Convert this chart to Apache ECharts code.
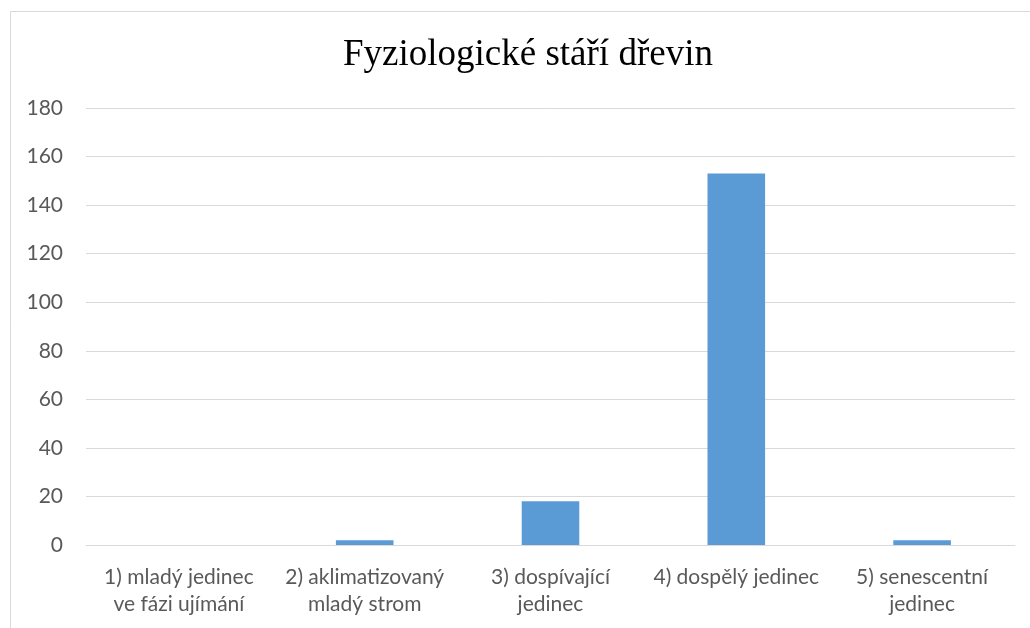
<!DOCTYPE html>
<html>
<head>
<meta charset="utf-8">
<script src="https://cdn.jsdelivr.net/npm/echarts@6/dist/echarts.min.js"></script>
<style>
  html, body { margin: 0; padding: 0; background: #fff; }
  #chart { width: 1030px; height: 628px; }
</style>
</head>
<body>
<div id="chart"></div>
<script>
var categories = [
  '1) mladý jedinec\nve fázi ujímání',
  '2) aklimatizovaný\nmladý strom',
  '3) dospívající\njedinec',
  '4) dospělý jedinec',
  '5) senescentní\njedinec'
];
var values = [0, 2, 18, 153, 2];

var chart = echarts.init(document.getElementById('chart'));

var option = {
  backgroundColor: '#fff',
  animation: false,
  title: {
    text: 'Fyziologické stáří dřevin',
    left: 338,
    top: 32,
    textStyle: {
      fontFamily: 'Liberation Serif',
      fontSize: 37,
      fontWeight: 'normal',
      color: '#000'
    }
  },
  graphic: [
    {
      type: 'rect',
      shape: { x: 10.5, y: 11.5, width: 1040, height: 640 },
      style: { fill: 'none', stroke: '#d9d9d9', lineWidth: 1 },
      silent: true
    }
  ],
  grid: {
    left: 86,
    right: 15,
    top: 108,
    bottom: 83
  },
  xAxis: {
    type: 'category',
    data: categories,
    axisLine: { lineStyle: { color: '#d9d9d9', width: 1 } },
    axisTick: { show: false },
    axisLabel: {
      interval: 0,
      margin: 19,
      fontFamily: 'Lato',
      fontSize: 21,
      lineHeight: 27,
      color: '#595959'
    }
  },
  yAxis: {
    type: 'value',
    min: 0,
    max: 180,
    interval: 20,
    axisLine: { show: false },
    axisTick: { show: false },
    splitLine: { lineStyle: { color: '#d9d9d9', width: 1 } },
    axisLabel: {
      margin: 23,
      fontFamily: 'Lato',
      fontSize: 21,
      color: '#595959'
    }
  },
  series: [
    {
      type: 'bar',
      data: values,
      barWidth: '31%',
      itemStyle: { color: '#5b9bd5' }
    }
  ]
};

chart.setOption(option);
</script>
</body>
</html>
